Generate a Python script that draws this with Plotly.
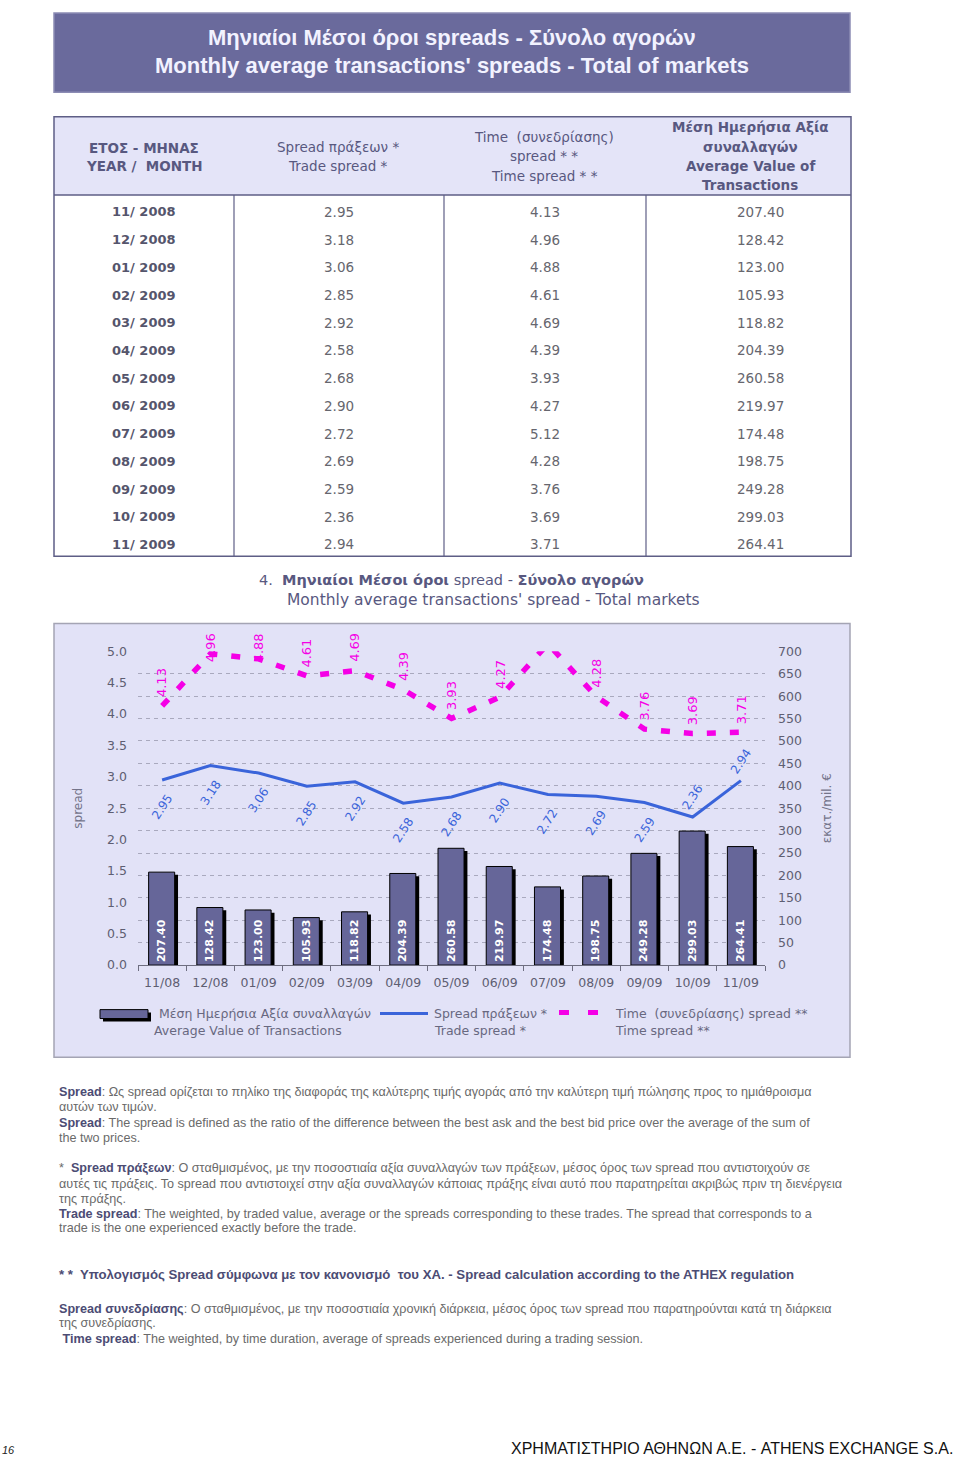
import plotly.graph_objects as go

# ---------------- data ----------------
months_table = ["11/ 2008", "12/ 2008", "01/ 2009", "02/ 2009", "03/ 2009", "04/ 2009", "05/ 2009",
                "06/ 2009", "07/ 2009", "08/ 2009", "09/ 2009", "10/ 2009", "11/ 2009"]
months_axis = ["11/08", "12/08", "01/09", "02/09", "03/09", "04/09", "05/09",
               "06/09", "07/09", "08/09", "09/09", "10/09", "11/09"]
trade_spread = [2.95, 3.18, 3.06, 2.85, 2.92, 2.58, 2.68, 2.90, 2.72, 2.69, 2.59, 2.36, 2.94]
time_spread = [4.13, 4.96, 4.88, 4.61, 4.69, 4.39, 3.93, 4.27, 5.12, 4.28, 3.76, 3.69, 3.71]
avg_value = [207.40, 128.42, 123.00, 105.93, 118.82, 204.39, 260.58, 219.97, 174.48, 198.75,
             249.28, 299.03, 264.41]
left_ticks = [0.0, 0.5, 1.0, 1.5, 2.0, 2.5, 3.0, 3.5, 4.0, 4.5, 5.0]
right_ticks = [0, 50, 100, 150, 200, 250, 300, 350, 400, 450, 500, 550, 600, 650, 700]

# label placement style (not data)
trade_label_side = ["below"] * 11 + ["above"] * 2

# ---------------- helpers ----------------
W, H = 960, 1463


def X(p):
    return p / W


def Y(p):
    return 1 - p / H


PL, PR, PT, PB = 138, 765, 650, 967
BLUE = "#3A64DA"
MAG = "#F500E6"
BAR = "#666699"
NAVY_TXT = "#585880"
GRAY_TXT = "#66666E"
NARROW = "Liberation Sans Narrow, Liberation Sans, Arial"
DJ = "DejaVu Sans, Verdana, sans-serif"
LIB = "Liberation Sans, Arial, sans-serif"

fig = go.Figure()

# bar shadow + bars (right axis scale)
fig.add_bar(x=months_axis, y=avg_value, base=[-6] * len(avg_value), yaxis="y", xaxis="x",
            offset=-0.21, width=0.54, marker=dict(color="black", line=dict(width=0)),
            hoverinfo="skip", showlegend=False)
fig.add_bar(x=months_axis, y=avg_value, yaxis="y", xaxis="x",
            offset=-0.28, width=0.54,
            marker=dict(color=BAR, line=dict(color="black", width=1)),
            texttemplate="%{y:.2f}", textposition="inside", insidetextanchor="start",
            textangle=-90, textfont=dict(family=DJ, size=11, color="white", weight="bold"),
            name="Μέση Ημερήσια Αξία συναλλαγών", showlegend=False)

# lines (left axis scale)
fig.add_scatter(x=months_axis, y=trade_spread, xaxis="x", yaxis="y2", mode="lines",
                line=dict(color=BLUE, width=3), name="Spread πράξεων *", showlegend=False)
fig.add_scatter(x=months_axis, y=time_spread, xaxis="x", yaxis="y2", mode="lines",
                line=dict(color=MAG, width=5.5, dash="9px,14px"),
                name="Time (συνεδρίασης) spread **", showlegend=False)

ann = []
shapes = []

# data labels for the lines
LABEL_CAP = 4.69
for m, v, side in zip(months_axis, trade_spread, trade_label_side):
    ann.append(dict(x=m, y=v, xref="x", yref="y2", text=f"{v:.2f}", showarrow=False,
                    textangle=-57, font=dict(family=DJ, size=12, color=BLUE),
                    xanchor="center", yanchor="middle",
                    yshift=-27 if side == "below" else 20))
for m, v in zip(months_axis, time_spread):
    if v > left_ticks[-1]:
        continue
    ann.append(dict(x=m, y=min(v, LABEL_CAP), xref="x", yref="y2", text=f"{v:.2f}",
                    showarrow=False, textangle=-90,
                    font=dict(family=DJ, size=13, color=MAG),
                    xanchor="center", yanchor="middle", yshift=23))

# ---------------- banner ----------------
shapes.append(dict(type="rect", xref="paper", yref="paper", x0=X(54), x1=X(850), y0=Y(85), y1=Y(5),
                   fillcolor="#6A6A9C", line=dict(color="#8C8CB4", width=1.5), layer="below"))
for yy, t in ((30, "Μηνιαίοι Μέσοι όροι spreads - Σύνολο αγορών"),
              (58, "Monthly average transactions' spreads - Total of markets")):
    ann.append(dict(x=X(452), y=Y(yy), xref="paper", yref="paper", showarrow=False, text=t,
                    font=dict(family=NARROW, size=22, color="#F2F2FF", weight="bold"),
                    xanchor="center", yanchor="middle"))

# ---------------- table ----------------
T_L, T_R, T_T, T_HB, T_B = 54, 851, 110, 189, 554
col_sep = [234, 444, 646]
shapes.append(dict(type="rect", xref="paper", yref="paper", x0=X(T_L), x1=X(T_R), y0=Y(T_HB), y1=Y(T_T),
                   fillcolor="#E4E4F8", line=dict(width=0), layer="below"))
shapes.append(dict(type="rect", xref="paper", yref="paper", x0=X(T_L), x1=X(T_R), y0=Y(T_B), y1=Y(T_T),
                   line=dict(color="#5E5E86", width=1.5)))
shapes.append(dict(type="line", xref="paper", yref="paper", x0=X(T_L), x1=X(T_R), y0=Y(T_HB), y1=Y(T_HB),
                   line=dict(color="#5E5E86", width=1.5)))
for cx in col_sep:
    shapes.append(dict(type="line", xref="paper", yref="paper", x0=X(cx), x1=X(cx), y0=Y(T_B), y1=Y(T_HB),
                       line=dict(color="#5E5E86", width=1.2)))

header_cells = [
    (144, [(141, "ΕΤΟΣ - ΜΗΝΑΣ"), (160, "YEAR /  MONTH")], True),
    (338, [(140, "Spread πράξεων *"), (160, "Trade spread *")], False),
    (544, [(130, "Time  (συνεδρίασης)"), (150, "spread * *"), (170, "Time spread * *")], False),
    (750, [(120, "Μέση Ημερήσια Αξία"), (140, "συναλλαγών"), (160, "Average Value of"),
           (179, "Transactions")], True),
]
for cx, lines, bold in header_cells:
    for yy, t in lines:
        ann.append(dict(x=X(cx), y=Y(yy), xref="paper", yref="paper", showarrow=False, text=t,
                        font=dict(family=DJ, size=13.5, color=NAVY_TXT,
                                  weight="bold" if bold else 500),
                        xanchor="center", yanchor="middle"))

ROW0, ROWSTEP = 206, 28
for i in range(len(months_table)):
    yy = ROW0 + ROWSTEP * i
    ann.append(dict(x=X(144), y=Y(yy), xref="paper", yref="paper", showarrow=False, text=months_table[i],
                    font=dict(family=DJ, size=13, color="#55556C", weight="bold"),
                    xanchor="center", yanchor="middle"))
    for cx, val in ((339, trade_spread[i]), (545, time_spread[i]), (760, avg_value[i])):
        ann.append(dict(x=X(cx), y=Y(yy), xref="paper", yref="paper", showarrow=False, text=f"{val:.2f}",
                        font=dict(family=DJ, size=13.5, color=GRAY_TXT),
                        xanchor="center", yanchor="middle"))

# ---------------- chart title ----------------
ann.append(dict(x=X(451), y=Y(578), xref="paper", yref="paper", showarrow=False,
                text="4.  <b>Μηνιαίοι Μέσοι όροι</b> spread - <b>Σύνολο αγορών</b>",
                font=dict(family=DJ, size=14.5, color=NAVY_TXT), xanchor="center", yanchor="middle"))
ann.append(dict(x=X(494), y=Y(598), xref="paper", yref="paper", showarrow=False,
                text="Monthly average transactions' spread - Total markets",
                font=dict(family=DJ, size=15.5, color=NAVY_TXT), xanchor="center", yanchor="middle"))

# chart box
shapes.append(dict(type="rect", xref="paper", yref="paper", x0=X(54), x1=X(850), y0=Y(1060), y1=Y(622),
                   fillcolor="#E2E2F7", line=dict(color="#A4A4B4", width=1.5), layer="below"))

# ---------------- legend (manual) ----------------
LEG_T = "#686880"
shapes.append(dict(type="rect", xref="paper", yref="paper", x0=X(103), x1=X(151), y0=Y(1024), y1=Y(1015),
                   fillcolor="black", line=dict(width=0)))
shapes.append(dict(type="rect", xref="paper", yref="paper", x0=X(100), x1=X(148), y0=Y(1021), y1=Y(1012),
                   fillcolor=BAR, line=dict(color="black", width=1)))
shapes.append(dict(type="line", xref="paper", yref="paper", x0=X(380), x1=X(428), y0=Y(1016), y1=Y(1016),
                   line=dict(color=BLUE, width=3)))
shapes.append(dict(type="line", xref="paper", yref="paper", x0=X(559), x1=X(598), y0=Y(1015), y1=Y(1015),
                   line=dict(color=MAG, width=5, dash="10px,19px")))
for xx, yy, t in ((157, 1016, "Μέση Ημερήσια Αξία συναλλαγών"), (152, 1033, "Average Value of Transactions"),
                  (432, 1016, "Spread πράξεων *"), (432, 1033, "Trade spread *"),
                  (613, 1016, "Time  (συνεδρίασης) spread **"), (613, 1033, "Time spread **")):
    ann.append(dict(x=X(xx), y=Y(yy), xref="paper", yref="paper", showarrow=False, text=t,
                    font=dict(family=DJ, size=12.5, color=LEG_T), xanchor="left", yanchor="middle"))

# ---------------- footnotes ----------------
B = "#4C4C74"
notes = [
    (1095, f"<b><span style='color:{B}'>Spread</span></b>: Ως spread ορίζεται το πηλίκο της διαφοράς της καλύτερης τιμής αγοράς από την καλύτερη τιμή πώλησης προς το ημιάθροισμα", 12.6),
    (1110, "αυτών των τιμών.", 12.6),
    (1127, f"<b><span style='color:{B}'>Spread</span></b>: The spread is defined as the ratio of the difference between the best ask and the best bid price over the average of the sum of", 12.6),
    (1142, "the two prices.", 12.6),
    (1172, f"*  <b><span style='color:{B}'>Spread πράξεων</span></b>: Ο σταθμισμένος, με την ποσοστιαία αξία συναλλαγών των πράξεων, μέσος όρος των spread που αντιστοιχούν σε", 12.6),
    (1188, "αυτές τις πράξεις. Το spread που αντιστοιχεί στην αξία συναλλαγών κάποιας πράξης είναι αυτό που παρατηρείται ακριβώς πριν τη διενέργεια", 12.6),
    (1203, "της πράξης.", 12.6),
    (1218, f"<b><span style='color:{B}'>Trade spread</span></b>: The weighted, by traded value, average or the spreads corresponding to these trades. The spread that corresponds to a", 12.6),
    (1233, "trade is the one experienced exactly before the trade.", 12.6),
    (1280, f"<b><span style='color:{B}'>* *  Υπολογισμός Spread σύμφωνα με τον κανονισμό  του ΧΑ. - Spread calculation according to the ATHEX regulation</span></b>", 13.2),
    (1314, f"<b><span style='color:{B}'>Spread συνεδρίασης</span></b>: Ο σταθμισμένος, με την ποσοστιαία χρονική διάρκεια, μέσος όρος των spread που παρατηρούνται κατά τη διάρκεια", 12.6),
    (1329, "της συνεδρίασης.", 12.6),
    (1345, f" <b><span style='color:{B}'>Time spread</span></b>: The weighted, by time duration, average of spreads experienced during a trading session.", 12.6),
]
for yy, t, fs in notes:
    ann.append(dict(x=X(57), y=Y(yy), xref="paper", yref="paper", showarrow=False, text=t,
                    font=dict(family=LIB, size=fs, color="#6A6A6A"), xanchor="left", yanchor="middle"))

# footer
ann.append(dict(x=X(0), y=Y(1457), xref="paper", yref="paper", showarrow=False, text="<i>16</i>",
                font=dict(family=LIB, size=11, color="#222222"), xanchor="left", yanchor="middle"))
ann.append(dict(x=X(955), y=Y(1455), xref="paper", yref="paper", showarrow=False,
                text="ΧΡΗΜΑΤΙΣΤΗΡΙΟ ΑΘΗΝΩΝ Α.Ε. - ATHENS EXCHANGE S.A.",
                font=dict(family=NARROW, size=16, color="#111111"), xanchor="right", yanchor="middle"))

TICKF = dict(family=DJ, size=12.5, color="#5E5E72")
fig.update_layout(
    width=W, height=H, margin=dict(l=0, r=0, t=0, b=0),
    paper_bgcolor="white", plot_bgcolor="rgba(0,0,0,0)",
    barmode="overlay", showlegend=False,
    xaxis=dict(domain=[X(PL), X(PR)], anchor="y", type="category", categoryorder="array",
               categoryarray=months_axis, range=[-0.5, len(months_axis) - 0.5],
               showline=True, linecolor="#6E6E80", linewidth=1, ticks="outside", tickson="boundaries",
               ticklen=5, tickcolor="#6E6E80", showgrid=False, tickfont=TICKF, ticklabelstandoff=6,
               fixedrange=True),
    yaxis=dict(domain=[Y(PB), Y(PT)], anchor="x", side="right", range=[0, right_ticks[-1]],
               tickvals=right_ticks, showgrid=True, gridcolor="#A9A9BE", griddash="4px,4px", gridwidth=1,
               zeroline=False, showline=False, ticks="", tickfont=TICKF, ticklabelstandoff=12,
               title=dict(text="εκατ./mil. €", font=dict(family=DJ, size=12, color="#74748A"), standoff=21)),
    yaxis2=dict(overlaying="y", anchor="x", side="left", range=[0, left_ticks[-1]], tickvals=left_ticks,
                tickformat=".1f", showgrid=False, zeroline=False, showline=False, ticks="",
                tickfont=TICKF, ticklabelstandoff=10,
                title=dict(text="spread", font=dict(family=DJ, size=12, color="#74748A"), standoff=21)),
    uniformtext=dict(minsize=11, mode="show"),
    annotations=ann, shapes=shapes,
)

fig.write_html("out.html", config={"displayModeBar": False},
               post_script="document.documentElement.style.margin='0';document.body.style.margin='0';"
                           "document.body.style.padding='0';document.documentElement.style.overflow='hidden';")
